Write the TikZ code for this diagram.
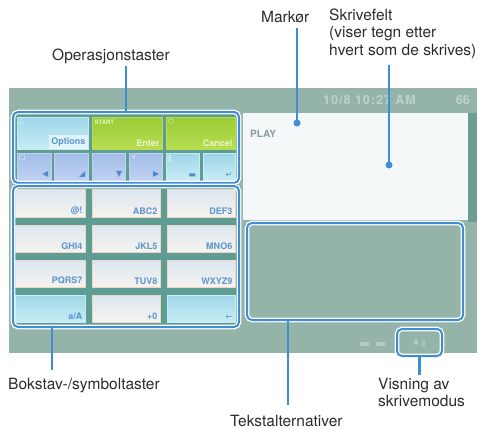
\documentclass[tikz,border=0pt]{standalone}
\usepackage{fontspec}
\setmainfont{TeX Gyre Heros}
\newfontfamily\symfont{DejaVu Sans}
\definecolor{scr}{HTML}{95B4A9}
\definecolor{scrdark}{HTML}{6E9D92}
\definecolor{keybg}{HTML}{5E9D93}
\definecolor{callout}{HTML}{3F8ED4}
\definecolor{txt}{HTML}{2B2B2B}
\definecolor{keytop}{HTML}{DCE6F1}
\definecolor{keybot}{HTML}{F5F3EF}
\definecolor{keyedge}{HTML}{EFD6C4}
\definecolor{cyantop}{HTML}{9ED6E8}
\definecolor{cyanbot}{HTML}{C8ECF5}
\definecolor{greentop}{HTML}{98CC34}
\definecolor{greenbot}{HTML}{B8DD52}
\definecolor{lavtop}{HTML}{A2BCE8}
\definecolor{lavbot}{HTML}{BFD2F2}
\definecolor{keyblue}{HTML}{3A7FC6}
\definecolor{fieldw}{HTML}{F5F8F9}
\definecolor{timec}{HTML}{BCD3CB}
\definecolor{altc}{HTML}{94B4A9}
\definecolor{playc}{HTML}{8A9AA8}
\newcommand\pkey[6]{\node[#6, minimum width={#4-#2}, minimum height={#5-#3}, anchor=north west] (#1) at (#2,#3) {};}
\begin{document}
\begin{tikzpicture}[x=1pt,y=-1pt,
  lbl/.style={inner sep=0pt, text=txt, font=\fontsize{15.5}{17.5}\selectfont, align=left},
  callbox/.style={draw=callout, line width=2pt, rounded corners=5pt, inner sep=0pt, outer sep=0pt,
    preaction={draw=white, line width=4.6pt}},
  conn/.style={draw=callout, line width=2.2pt},
  dotc/.style={circle, fill=callout, inner sep=0pt, minimum size=7pt},
  facekey/.style={inner sep=0pt, outer sep=0pt, draw=keyedge, line width=0.8pt, top color=keytop, bottom color=keybot},
  cyankey/.style={inner sep=0pt, outer sep=0pt, draw=cyanbot, line width=0.8pt, top color=cyantop, bottom color=cyanbot},
  greenkey/.style={inner sep=0pt, outer sep=0pt, draw=greenbot, line width=0.8pt, top color=greentop, bottom color=greenbot},
  lavkey/.style={inner sep=0pt, outer sep=0pt, draw=lavbot, line width=0.8pt, top color=lavtop, bottom color=lavbot},
  keyl/.style={font=\bfseries\fontsize{9}{10}\selectfont, text=keyblue, inner sep=2.5pt, opacity=0.8},
  keyg/.style={font=\bfseries\fontsize{9}{10}\selectfont, text=white, inner sep=2.5pt, opacity=0.75},
  keys/.style={font=\symfont\fontsize{8}{9}\selectfont, text=keyblue, inner sep=2.5pt, opacity=0.85},
  keyt/.style={font=\symfont\fontsize{6.5}{7}\selectfont, text=white, inner sep=2pt, opacity=0.9}
]
\useasboundingbox (0,0) rectangle (489,428);
% screen
\fill[scr] (9,88) rectangle (477,353);
\fill[keybg] (14,113) rectangle (238,326);
\fill[scrdark] (468,113) rectangle (477,222);
\node[fill=fieldw, minimum width=225, minimum height=107, anchor=north west, inner sep=0pt] (field) at (243,113) {};
\node[anchor=base west, font=\bfseries\fontsize{10}{10}\selectfont, text=playc, inner sep=0pt] (play) at (250,137) {PLAY};
\node[anchor=west, font=\bfseries\fontsize{12.5}{13}\selectfont\addfontfeature{LetterSpace=8}, text=timec, inner sep=0pt] (clock) at (323,100) {10/8 10:27 AM};
\node[anchor=east, font=\bfseries\fontsize{12.5}{13}\selectfont, text=timec, inner sep=0pt] (batt) at (470,100) {66};
% operation keys
\pkey{oa}{17}{117}{88}{149}{cyankey}
\pkey{ob}{92}{117}{162}{149}{greenkey}
\pkey{oc}{166}{117}{235}{149}{greenkey}
\node[keyl, anchor=south east, fill=white!60!cyanbot] (oal) at (oa.south east) {Options};
\node[keyt, anchor=north west, text=white] (oat) at (oa.north west) {△};
\node[keyg, anchor=south east] (obl) at (ob.south east) {Enter};
\node[keyg, anchor=north west, font=\bfseries\fontsize{6}{7}\selectfont] (obt) at (ob.north west) {START};
\node[keyg, anchor=south east] (ocl) at (oc.south east) {Cancel};
\node[keyt, anchor=north west] (oct) at (oc.north west) {○};
\pkey{o1}{17}{153}{51}{180}{lavkey}
\pkey{o2}{54}{153}{88}{180}{lavkey}
\pkey{o3}{92}{153}{125}{180}{lavkey}
\pkey{o4}{129}{153}{162}{180}{lavkey}
\pkey{o5}{166}{153}{199}{180}{cyankey}
\pkey{o6}{203}{153}{235}{180}{cyankey}
\node[keys, anchor=south east] (o1l) at (o1.south east) {◀};
\node[keyt, anchor=north west] (o1t) at (o1.north west) {□};
\node[keys, anchor=south east] (o2l) at (o2.south east) {◢};
\node[keys, anchor=south east] (o3l) at (o3.south east) {▼};
\node[keys, anchor=south east] (o4l) at (o4.south east) {▶};
\node[keyt, anchor=north west] (o4t) at (o4.north west) {×};
\node[keys, anchor=south east] (o5l) at (o5.south east) {▬};
\node[keyt, anchor=north west] (o5t) at (o5.north west) {‖};
\node[keys, anchor=south east] (o6l) at (o6.south east) {↵};
% letter keys
\pkey{k1}{15}{189}{85}{217}{facekey}
\pkey{k2}{92}{189}{160}{217}{facekey}
\pkey{k3}{167}{189}{235}{217}{facekey}
\pkey{k4}{15}{225}{85}{252}{facekey}
\pkey{k5}{92}{225}{160}{252}{facekey}
\pkey{k6}{167}{225}{235}{252}{facekey}
\pkey{k7}{15}{260}{85}{287}{facekey}
\pkey{k8}{92}{260}{160}{287}{facekey}
\pkey{k9}{167}{260}{235}{287}{facekey}
\pkey{k10}{15}{295}{85}{322}{cyankey}
\pkey{k11}{92}{295}{160}{322}{facekey}
\pkey{k12}{167}{295}{235}{322}{cyankey}
\node[keyl, anchor=south east] (k1l) at (k1.south east) {@!};
\node[keyl, anchor=south east] (k2l) at (k2.south east) {ABC2};
\node[keyl, anchor=south east] (k3l) at (k3.south east) {DEF3};
\node[keyl, anchor=south east] (k4l) at (k4.south east) {GHI4};
\node[keyl, anchor=south east] (k5l) at (k5.south east) {JKL5};
\node[keyl, anchor=south east] (k6l) at (k6.south east) {MNO6};
\node[keyl, anchor=south east] (k7l) at (k7.south east) {PQRS7};
\node[keyl, anchor=south east] (k8l) at (k8.south east) {TUV8};
\node[keyl, anchor=south east] (k9l) at (k9.south east) {WXYZ9};
\node[keyl, anchor=south east] (k10l) at (k10.south east) {a/A};
\node[keyl, anchor=south east] (k11l) at (k11.south east) {+0};
\node[keys, anchor=south east] (k12l) at (k12.south east) {←};
% bottom strip icons
\node[fill=timec, minimum width=9, minimum height=4, inner sep=0pt, opacity=0.8] (ic1) at (364,344) {};
\node[fill=timec, minimum width=9, minimum height=4, inner sep=0pt, opacity=0.8] (ic2) at (380,344) {};
% callout boxes
\node[callbox, minimum width=226, minimum height=71] (opbox) at (126,147.5) {};
\node[callbox, minimum width=226, minimum height=141] (letbox) at (126,256.5) {};
\node[fill=altc, rounded corners=5pt, minimum width=216, minimum height=97, inner sep=0pt] (altfill) at (355,271.5) {};
\node[callbox, minimum width=216, minimum height=97] (altbox) at (355,271.5) {};
\node[fill=scr, rounded corners=5pt, minimum width=45, minimum height=27, inner sep=0pt] (modefill) at (419.5,342.5) {};
\node[font=\bfseries\fontsize{8}{8}\selectfont, text=timec, inner sep=0pt] (modetxt) at (419.5,343) {A ‖};
\node[callbox, minimum width=45, minimum height=27] (modebox) at (419.5,342.5) {};
% labels
\node[lbl, anchor=base west] (lop) at (52,60) {Operasjonstaster};
\node[lbl, anchor=base west] (lmark) at (261,23) {Markør};
\node[lbl, anchor=north west] (lskr) at (329,8.7) {Skrivefelt\\(viser tegn etter\\hvert som de skrives)};
\node[lbl, anchor=base west] (lbk) at (8,389) {Bokstav-/symboltaster};
\node[lbl, anchor=base west] (ltek) at (230,426) {Tekstalternativer};
\node[lbl, anchor=north west] (lvis) at (378,377.8) {Visning av\\skrivemodus};
% connectors
\coordinate (cursorpt) at (297,123);
\coordinate (fieldpt) at (389,165);
\coordinate (bkx) at (52,0);
\coordinate (tekx) at (288,0);
\draw[conn, shorten <=2pt] (lop.south -| opbox.north) -- (opbox.north);
\draw[conn, shorten <=5pt] (lmark.south -| cursorpt) -- (cursorpt);
\node[dotc] (cursordot) at (cursorpt) {};
\draw[conn, shorten <=6pt] (lskr.south -| fieldpt) -- (fieldpt);
\node[dotc] (fielddot) at (fieldpt) {};
\draw[conn, shorten >=8pt] (letbox.south -| bkx) -- (lbk.north -| bkx);
\draw[conn, shorten >=10pt] (altbox.south -| tekx) -- (ltek.north -| tekx);
\draw[conn, shorten >=3pt] (modebox.south) -- (lvis.north -| modebox.south);
\end{tikzpicture}
\end{document}
